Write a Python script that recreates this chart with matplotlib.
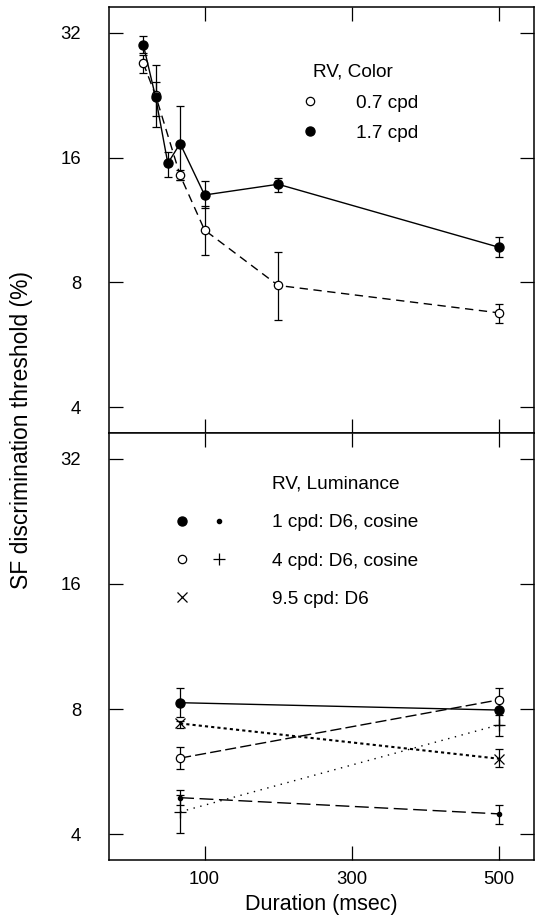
import numpy as np
import matplotlib
matplotlib.use("Agg")
import matplotlib.pyplot as plt
from matplotlib.lines import Line2D
from matplotlib.legend_handler import HandlerTuple

plt.rcParams['font.family'] = ['Liberation Sans', 'DejaVu Sans']

# ---- upper panel: RV, Color ----
dur_17 = [16.7, 33.3, 50, 66.7, 100, 200, 500]
thr_17 = [29.9, 22.4, 15.5, 17.3, 13.0, 13.8, 9.73]
lo_17 = [28.6, 19.0, 14.4, 14.1, 12.1, 13.2, 9.19]
hi_17 = [31.5, 26.7, 16.5, 21.3, 14.05, 14.3, 10.3]

dur_07 = [16.7, 33.3, 66.7, 100, 200, 500]
thr_07 = [27.0, 22.6, 14.5, 10.7, 7.87, 6.76]
lo_07 = [25.6, 20.1, 14.1, 9.3, 6.5, 6.4]
hi_07 = [28.3, 24.4, 14.9, 12.2, 9.48, 7.1]

# ---- lower panel: RV, Luminance ----
dur_lum = [66.7, 500]
d6_1 = [8.29, 7.96]; d6_1_lo = [7.68, 7.33]; d6_1_hi = [9.0, 8.5]
d6_4 = [6.10, 8.42]; d6_4_lo = [5.73, 7.88]; d6_4_hi = [6.5, 9.0]
d6_95 = [7.39, 6.08]; d6_95_lo = [7.19, 5.8]; d6_95_hi = [7.5, 6.4]
cos_1 = [4.9, 4.48]; cos_1_lo = [4.70, 4.24]; cos_1_hi = [5.12, 4.70]
cos_4 = [4.53, 7.33]; cos_4_lo = [4.03, 6.9]; cos_4_hi = [4.96, 7.75]

yticks = [4, 8, 16, 32]
xticks = [100, 300, 500]

fig = plt.figure(figsize=(5.36, 9.18), dpi=100)
W, H = 536, 918
ax1 = fig.add_axes([109 / W, 1 - 433 / H, 425 / W, 426 / H])
ax2 = fig.add_axes([109 / W, 1 - 860 / H, 425 / W, 427 / H])


def errs(v, lo, hi):
    v = np.array(v)
    return [v - np.array(lo), np.array(hi) - v]


ekw = dict(ecolor='black', elinewidth=0.9, capsize=3, capthick=0.9)

# upper
ax1.errorbar(dur_07, thr_07, yerr=errs(thr_07, lo_07, hi_07), color='black',
             lw=1, ls=(0, (6, 4)), marker='o', ms=6, mfc='white', mec='black',
             mew=0.9, **ekw)
ax1.errorbar(dur_17, thr_17, yerr=errs(thr_17, lo_17, hi_17), color='black',
             lw=1, ls='-', marker='o', ms=6.5, mfc='black', mec='black', **ekw)

# lower
ax2.errorbar(dur_lum, cos_4, yerr=errs(cos_4, cos_4_lo, cos_4_hi), color='black',
             lw=1, ls=(0, (1, 4)), marker='+', ms=8, mew=0.9, **ekw)
ax2.errorbar(dur_lum, cos_1, yerr=errs(cos_1, cos_1_lo, cos_1_hi), color='black',
             lw=1, ls=(0, (10, 4)), marker='o', ms=3, mfc='black', **ekw)
ax2.errorbar(dur_lum, d6_95, yerr=errs(d6_95, d6_95_lo, d6_95_hi), color='black',
             lw=1.5, ls=(0, (1.5, 1.5)), marker='x', ms=7, mew=0.9, **ekw)
ax2.errorbar(dur_lum, d6_4, yerr=errs(d6_4, d6_4_lo, d6_4_hi), color='black',
             lw=1, ls=(0, (8, 3)), marker='o', ms=6, mfc='white', mec='black',
             mew=0.9, **ekw)
ax2.errorbar(dur_lum, d6_1, yerr=errs(d6_1, d6_1_lo, d6_1_hi), color='black',
             lw=1, ls='-', marker='o', ms=6.5, mfc='black', **ekw)

for ax in (ax1, ax2):
    ax.set_yscale('log', base=2)
    ax.set_ylim(3.47, 36.9)
    ax.set_xlim(-30, 548)
    ax.set_yticks(yticks, labels=[str(t) for t in yticks])
    ax.yaxis.set_minor_locator(matplotlib.ticker.NullLocator())
    ax.set_xticks(xticks)
    ax.tick_params(direction='in', top=True, right=True, length=10, width=0.9,
                   labelsize=13.3, pad=8)
    ax.tick_params(axis='y', pad=20)
    for s in ax.spines.values():
        s.set_linewidth(1.1)

ax1.tick_params(labelbottom=False)
ax2.set_xticks(xticks, labels=[str(t) for t in xticks])
ax2.set_xlabel('Duration (msec)', fontsize=15.5, labelpad=4)
fig.text(22 / W, 1 - 430 / H, 'SF discrimination threshold (%)', rotation=90,
         ha='center', va='center', fontsize=16.5)

# legends
LFS = 13.7
ax1.text(0.48, 0.847, 'RV, Color', transform=ax1.transAxes, fontsize=LFS,
         ha='left', va='center')
h_open = Line2D([], [], ls='none', marker='o', ms=6, mfc='white', mec='black', mew=0.9)
h_fill = Line2D([], [], ls='none', marker='o', ms=6.5, mfc='black', mec='black')
ax1.legend([h_open, h_fill], ['0.7 cpd', '1.7 cpd'], loc='upper left',
           bbox_to_anchor=(0.45, 0.795), frameon=False, fontsize=LFS,
           handlelength=1.05, handletextpad=1.9, labelspacing=0.66,
           borderpad=0, borderaxespad=0, numpoints=1)

ax2.text(0.384, 0.881, 'RV, Luminance', transform=ax2.transAxes, fontsize=LFS,
         ha='left', va='center')
h_big = Line2D([], [], ls='none', marker='o', ms=6.5, mfc='black', mec='black')
h_small = Line2D([], [], ls='none', marker='o', ms=3, mfc='black', mec='black')
h_ring = Line2D([], [], ls='none', marker='o', ms=6, mfc='white', mec='black', mew=0.9)
h_plus = Line2D([], [], ls='none', marker='+', ms=8, mec='black', mew=0.9)
h_x = Line2D([], [], ls='none', marker='x', ms=7, mec='black', mew=0.9)
h_none = Line2D([], [], ls='none')
ax2.legend([(h_big, h_small), (h_ring, h_plus), (h_x, h_none)],
           ['1 cpd: D6, cosine', '4 cpd: D6, cosine', '9.5 cpd: D6'],
           handler_map={tuple: HandlerTuple(ndivide=None, pad=0)},
           loc='upper left', bbox_to_anchor=(0.128, 0.81), frameon=False,
           fontsize=LFS, handlelength=3.9, handletextpad=1.8, labelspacing=1.09,
           borderpad=0, borderaxespad=0, numpoints=1)

fig.savefig('out.png', dpi=100)
